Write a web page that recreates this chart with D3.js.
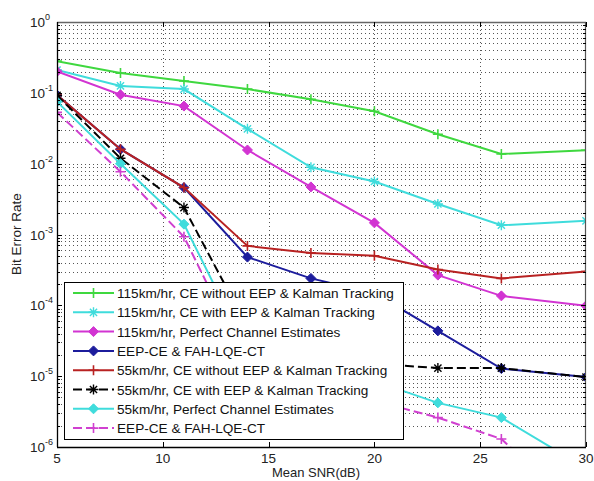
<!DOCTYPE html>
<html>
<head>
<meta charset="utf-8">
<script src="https://cdn.jsdelivr.net/npm/d3@7"></script>
<style>
  body { margin: 0; background: #fff; }
  svg { display: block; font-family: "Liberation Sans", Arial, sans-serif; }
</style>
</head>
<body>
<svg id="chart" width="594" height="481"></svg>
<script>
// ---- data ----
const snr = [5, 8, 11, 14, 17, 20, 23, 26, 30];
const xTicks = [5, 10, 15, 20, 25, 30];
const yExponents = [0, -1, -2, -3, -4, -5, -6];

const ber115NoEEP   = [0.28, 0.19, 0.147, 0.113, 0.081, 0.055, 0.026, 0.0137, 0.0155];
const ber115EEP     = [0.21, 0.125, 0.113, 0.031, 0.0089, 0.0056, 0.0027, 0.00135, 0.00156];
const ber115Perfect = [0.20, 0.094, 0.065, 0.0156, 0.0047, 0.00146, 0.000267, 0.000136, 0.0000985];
const ber115FAH     = [0.093, 0.016, 0.0046, 0.00048, 0.00024, 0.000148, 0.0000436, 0.0000128, 0.0000097];
const ber55NoEEP    = [0.093, 0.016, 0.0046, 0.00069, 0.00055, 0.0005, 0.00032, 0.00024, 0.0003];
const ber55EEP      = [0.092, 0.0119, 0.0024, 0.000049, 0.000025, 0.000015, 0.000013, 0.000013, 0.0000097];
const ber55Perfect  = [0.075, 0.010, 0.0014, 0.000022, 0.000012, 0.0000085, 0.0000042, 0.0000026, 0.0000005];
const ber55FAH      = [0.053, 0.0077, 0.00093, 0.000014, 0.000008, 0.0000045, 0.0000026, 0.0000013, 0.0000001];

const legendLabels = [
  "115km/hr, CE without EEP & Kalman Tracking",
  "115km/hr, CE with EEP & Kalman Tracking",
  "115km/hr, Perfect Channel Estimates",
  "EEP-CE & FAH-LQE-CT",
  "55km/hr, CE without EEP & Kalman Tracking",
  "55km/hr, CE with EEP & Kalman Tracking",
  "55km/hr, Perfect Channel Estimates",
  "EEP-CE & FAH-LQE-CT"
];

const series = [
  { name: legendLabels[0], values: ber115NoEEP,   color: "#3fd83f", dash: null,  marker: "plus" },
  { name: legendLabels[1], values: ber115EEP,     color: "#3fdcdc", dash: null,  marker: "star" },
  { name: legendLabels[2], values: ber115Perfect, color: "#d234d2", dash: null,  marker: "diamond" },
  { name: legendLabels[3], values: ber115FAH,     color: "#1c1c9c", dash: null,  marker: "diamond" },
  { name: legendLabels[4], values: ber55NoEEP,    color: "#b82222", dash: null,  marker: "plus" },
  { name: legendLabels[5], values: ber55EEP,      color: "#000000", dash: "9,4", marker: "star" },
  { name: legendLabels[6], values: ber55Perfect,  color: "#3fdcdc", dash: null,  marker: "diamond" },
  { name: legendLabels[7], values: ber55FAH,      color: "#d040d0", dash: "9,4", marker: "plus" }
];

// ---- layout ----
const L = 57, R = 586, T = 22, B = 447;
const svg = d3.select("#chart");
const x = d3.scaleLinear().domain([5, 30]).range([L, R]);
const y = d3.scaleLog().domain([1e-6, 1]).range([B, T]);

// grid: minor + major horizontal dotted lines
const gridVals = [];
for (let e = -6; e < 0; e++) for (let m = 1; m <= 9; m++) gridVals.push(m * Math.pow(10, e));
const grid = svg.append("g").attr("stroke", "#555").attr("stroke-width", 1)
  .attr("stroke-dasharray", "1,3").attr("fill", "none");
grid.selectAll("line.h").data(gridVals.filter(v => v > 1e-6)).join("line")
  .attr("x1", L).attr("x2", R)
  .attr("y1", d => Math.round(y(d)) + 0.5).attr("y2", d => Math.round(y(d)) + 0.5);
grid.selectAll("line.v").data(xTicks.filter(v => v > 5 && v < 30)).join("line")
  .attr("class", "v")
  .attr("y1", T).attr("y2", B)
  .attr("x1", d => Math.round(x(d)) + 0.5).attr("x2", d => Math.round(x(d)) + 0.5);

// clip
svg.append("clipPath").attr("id", "clip").append("rect")
  .attr("x", L).attr("y", T).attr("width", R - L).attr("height", B - T);

const line = d3.line().x((d, i) => x(snr[i])).y(d => y(d));

function drawMarker(g, type, cx, cy, color, s) {
  if (type === "plus") {
    g.append("path").attr("d", `M${cx - s},${cy}H${cx + s}M${cx},${cy - s}V${cy + s}`)
      .attr("stroke", color).attr("stroke-width", 1.6).attr("fill", "none");
  } else if (type === "star") {
    const k = s * 0.72;
    g.append("path").attr("d", `M${cx - s},${cy}H${cx + s}M${cx},${cy - s}V${cy + s}M${cx - k},${cy - k}L${cx + k},${cy + k}M${cx - k},${cy + k}L${cx + k},${cy - k}`)
      .attr("stroke", color).attr("stroke-width", 1.4).attr("fill", "none");
  } else if (type === "diamond") {
    g.append("path").attr("d", `M${cx},${cy - s}L${cx + s},${cy}L${cx},${cy + s}L${cx - s},${cy}Z`)
      .attr("stroke", color).attr("stroke-width", 1).attr("fill", color);
  }
}

const plot = svg.append("g").attr("clip-path", "url(#clip)");
series.forEach(s => {
  plot.append("path").datum(s.values)
    .attr("d", line).attr("fill", "none")
    .attr("stroke", s.color).attr("stroke-width", 2)
    .attr("stroke-dasharray", s.dash);
  const mg = plot.append("g");
  s.values.forEach((v, i) => drawMarker(mg, s.marker, x(snr[i]), y(v), s.color, 5));
});

// axes box
const ax = svg.append("g").attr("fill", "none");
ax.append("line").attr("x1", L).attr("x2", R).attr("y1", T + 0.5).attr("y2", T + 0.5).attr("stroke", "#666").attr("stroke-width", 1.5);
ax.append("line").attr("x1", R - 0.5).attr("x2", R - 0.5).attr("y1", T).attr("y2", B).attr("stroke", "#555").attr("stroke-width", 1.2);
ax.append("line").attr("x1", L).attr("x2", R).attr("y1", B + 0.5).attr("y2", B + 0.5).attr("stroke", "#000").attr("stroke-width", 1.3);
ax.append("line").attr("x1", L + 0.5).attr("x2", L + 0.5).attr("y1", T).attr("y2", B).attr("stroke", "#000").attr("stroke-width", 1.3);

// ticks
const tk = svg.append("g").attr("stroke", "#000").attr("stroke-width", 1);
xTicks.forEach(v => {
  const px = Math.round(x(v)) + 0.5;
  tk.append("line").attr("x1", px).attr("x2", px).attr("y1", B).attr("y2", B - 5);
  tk.append("line").attr("x1", px).attr("x2", px).attr("y1", T).attr("y2", T + 5);
});
gridVals.forEach(v => {
  const py = Math.round(y(v)) + 0.5;
  const major = Math.abs(Math.log10(v) - Math.round(Math.log10(v))) < 1e-9;
  const len = major ? 5 : 3;
  tk.append("line").attr("x1", L).attr("x2", L + len).attr("y1", py).attr("y2", py);
  tk.append("line").attr("x1", R).attr("x2", R - len).attr("y1", py).attr("y2", py);
});

// x tick labels
svg.append("g").selectAll("text").data(xTicks).join("text")
  .attr("x", d => x(d)).attr("y", 463).attr("text-anchor", "middle")
  .attr("font-size", 13.5).attr("fill", "#222").text(d => d);

// y tick labels 10^e
const yl = svg.append("g").attr("fill", "#222");
yExponents.forEach(e => {
  const py = y(Math.pow(10, e));
  const t = yl.append("text").attr("x", 30).attr("y", py + 5).attr("font-size", 13.5);
  t.append("tspan").text("10");
  t.append("tspan").attr("dy", -7).attr("font-size", 9).text(e === 0 ? "0" : "-" + Math.abs(e));
});

// axis titles
svg.append("text").attr("x", 316).attr("y", 477).attr("text-anchor", "middle")
  .attr("font-size", 13).attr("fill", "#222").text("Mean SNR(dB)");
svg.append("text").attr("transform", "translate(21,234) rotate(-90)").attr("text-anchor", "middle")
  .attr("font-size", 13.5).attr("fill", "#222").text("Bit Error Rate");

// legend
const lg = svg.append("g");
lg.append("rect").attr("x", 64.5).attr("y", 282.5).attr("width", 339).attr("height", 157)
  .attr("fill", "#fff").attr("stroke", "#000").attr("stroke-width", 1);
series.forEach((s, i) => {
  const ly = 293 + i * 19.3;
  lg.append("line").attr("x1", 73).attr("x2", 114).attr("y1", ly).attr("y2", ly)
    .attr("stroke", s.color).attr("stroke-width", 2).attr("stroke-dasharray", s.dash);
  drawMarker(lg, s.marker, 93.5, ly, s.color, 5);
  lg.append("text").attr("x", 117).attr("y", ly + 5).attr("font-size", 13.6).attr("fill", "#111").text(s.name);
});
</script>
</body>
</html>
